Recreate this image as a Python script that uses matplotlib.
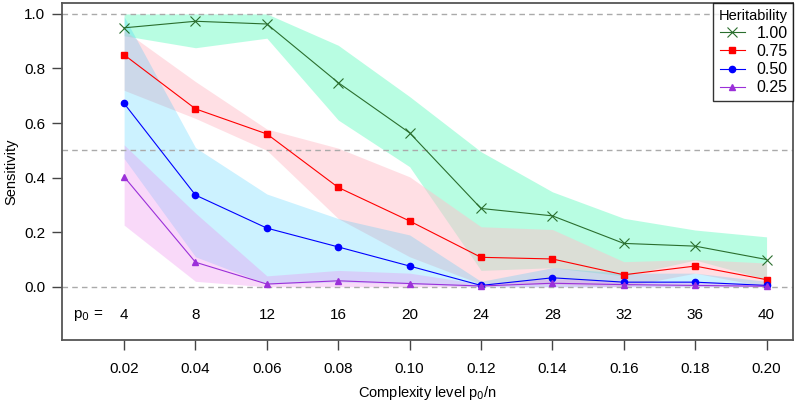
import matplotlib.pyplot as plt
import numpy as np

plt.rcParams['font.family'] = ['Liberation Sans', 'DejaVu Sans']

# complexity levels and corresponding p0
x = [0.02, 0.04, 0.06, 0.08, 0.10, 0.12, 0.14, 0.16, 0.18, 0.20]
p0 = [4, 8, 12, 16, 20, 24, 28, 32, 36, 40]

# mean sensitivity per heritability
h100 = [0.949, 0.973, 0.963, 0.748, 0.564, 0.287, 0.260, 0.159, 0.149, 0.100]
h075 = [0.850, 0.652, 0.560, 0.364, 0.241, 0.108, 0.102, 0.044, 0.076, 0.026]
h050 = [0.672, 0.336, 0.215, 0.146, 0.076, 0.005, 0.033, 0.017, 0.017, 0.005]
h025 = [0.403, 0.090, 0.010, 0.022, 0.012, 0.003, 0.013, 0.008, 0.005, 0.002]

# band limits
h100_lo = [0.920, 0.876, 0.911, 0.611, 0.440, 0.060, 0.070, 0.040, 0.098, 0.027]
h100_hi = [1.000, 1.000, 1.000, 0.885, 0.697, 0.495, 0.348, 0.251, 0.208, 0.183]
h075_lo = [0.720, 0.617, 0.500, 0.250, 0.110, 0.010, 0.010, 0.000, 0.050, 0.000]
h075_hi = [0.940, 0.752, 0.578, 0.508, 0.403, 0.220, 0.210, 0.092, 0.100, 0.087]
h050_lo = [0.470, 0.110, 0.010, 0.018, 0.010, 0.000, 0.000, 0.000, 0.000, 0.000]
h050_hi = [0.990, 0.510, 0.340, 0.250, 0.190, 0.020, 0.070, 0.050, 0.050, 0.020]
h025_lo = [0.226, 0.020, 0.000, 0.000, 0.000, 0.000, 0.000, 0.000, 0.000, 0.000]
h025_hi = [0.520, 0.270, 0.040, 0.060, 0.050, 0.010, 0.030, 0.020, 0.020, 0.010]

fig = plt.figure(figsize=(7.96, 4.03), dpi=100)
ax = fig.add_axes([0.0779, 0.1563, 0.9183, 0.8363])

ax.fill_between(x, h100_lo, h100_hi, color='#00fa9a', alpha=0.28, lw=0)
ax.fill_between(x, h075_lo, h075_hi, color='#ffc0cb', alpha=0.5, lw=0)
ax.fill_between(x, h050_lo, h050_hi, color='#00bfff', alpha=0.2, lw=0)
ax.fill_between(x, h025_lo, h025_hi, color='#ee82ee', alpha=0.3, lw=0)

for yv in [0.0, 0.5, 1.0]:
    ax.axhline(yv, color='#aaaaaa', ls=(0, (4, 3)), lw=1)

ax.plot(x, h100, color='#2a6e2e', marker='x', ms=7, mew=0.8, lw=0.8, label='1.00')
ax.plot(x, h075, color='red', marker='s', ms=4.5, lw=0.8, label='0.75')
ax.plot(x, h050, color='blue', marker='o', ms=4.5, lw=0.8, label='0.50')
ax.plot(x, h025, color='#9b30d9', marker='^', ms=5, lw=0.8, label='0.25')

ax.text(0.0099, -0.105, r'p$_0$ =', ha='center', va='center', fontsize=11)
for xi, pv in zip(x, p0):
    ax.text(xi, -0.105, str(pv), ha='center', va='center', fontsize=11)

ax.set_xlim(0.0026, 0.2074)
ax.set_ylim(-0.195, 1.04)
ax.set_xticks(x)
ax.set_xticklabels(['%.2f' % v for v in x])
ax.set_yticks([0.0, 0.2, 0.4, 0.6, 0.8, 1.0])
ax.set_yticklabels(['0.0', '0.2', '0.4', '0.6', '0.8', '1.0'])
ax.tick_params(axis='both', labelsize=11, length=7, width=1, color='#444444')
ax.tick_params(axis='x', pad=9)
ax.tick_params(axis='y', pad=5)
for s in ax.spines.values():
    s.set_color('#555555')
    s.set_linewidth(1.3)

ax.set_xlabel(r'Complexity level p$_0$/n', fontsize=10.5, va='center')
ax.xaxis.set_label_coords(0.5, -0.157)
ax.set_ylabel('Sensitivity', fontsize=10.5, va='center')
ax.yaxis.set_label_coords(-0.069, 0.5)

leg = ax.legend(title='Heritability', loc='upper right', fontsize=11.5, title_fontsize=10.5,
                frameon=True, fancybox=False, borderaxespad=0, handlelength=1.6,
                labelspacing=0.2, borderpad=0.35, handletextpad=0.7, alignment='right')
leg.get_frame().set_edgecolor('black')
leg.get_frame().set_linewidth(1)

fig.savefig('out.png', dpi=100)
